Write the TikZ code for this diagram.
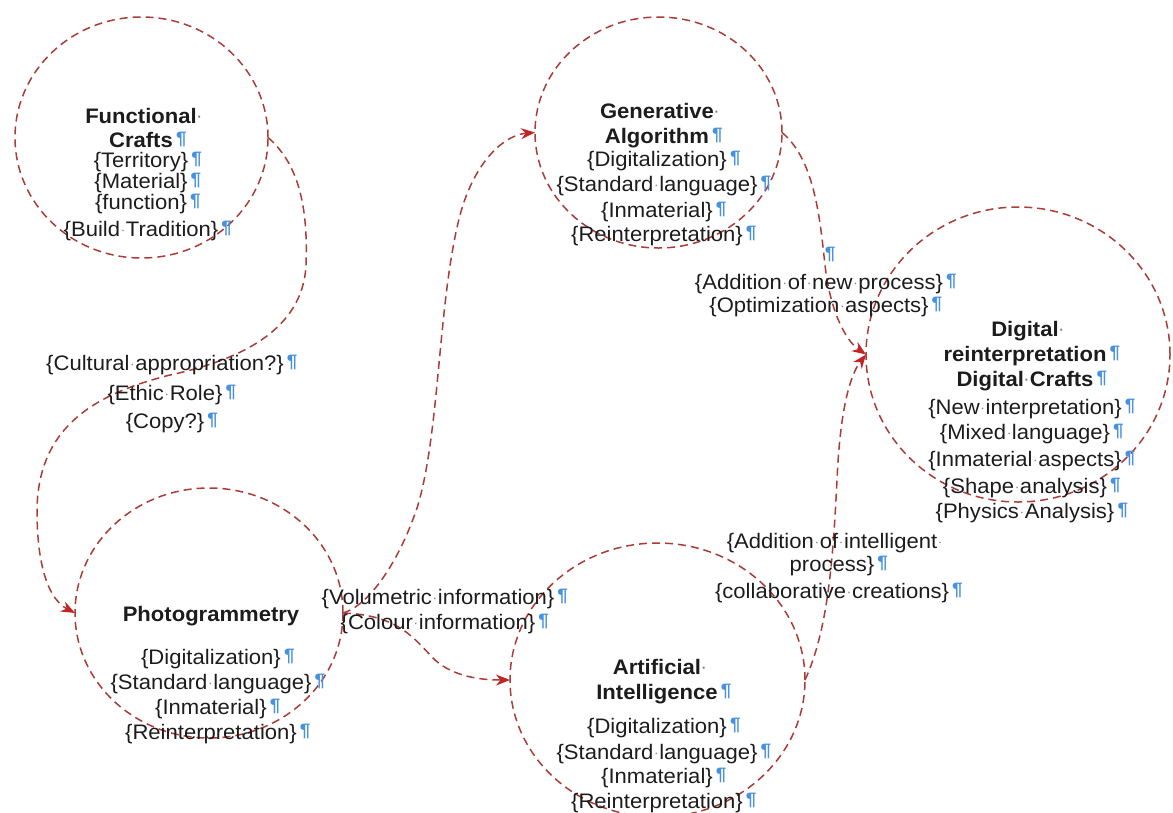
\documentclass[tikz,border=0pt]{standalone}
\usepackage{fontspec}
\setmainfont{Liberation Sans}[FakeStretch=1.05]
\usetikzlibrary{arrows.meta,shapes.geometric}
\definecolor{linered}{RGB}{170,60,55}
\definecolor{tipred}{RGB}{192,36,36}
\definecolor{pilblue}{RGB}{70,145,225}
\definecolor{dotgray}{RGB}{120,120,120}
\definecolor{txtcol}{RGB}{28,28,28}
\newcommand{\pcglyph}{{\color{pilblue}\fontsize{18}{18}\selectfont\bfseries\raisebox{3pt}{¶}}}
\newcommand{\pcw}{\rlap{\hspace{0.15em}\pcglyph}}
\newcommand{\wsp}{\makebox[0.28em][c]{\color{dotgray}\fontsize{13}{13}\selectfont\raisebox{1.5pt}{·}}}
\newcommand{\twsp}{\rlap{\wsp}}
\tikzset{
  ring/.style={ellipse, draw=linered, dash pattern=on 8pt off 5pt, line width=1.5pt, inner sep=0pt, outer sep=0pt},
  conn/.style={draw=linered, dash pattern=on 8pt off 5pt, line width=1.5pt,
    -{Stealth[length=14pt,width=11pt,color=tipred,fill=tipred]}},
  txt/.style={inner sep=0pt, anchor=base, text=txtcol, font=\fontsize{21}{21}\selectfont},
  bld/.style={txt, font=\fontsize{21}{21}\selectfont\bfseries},
}
\begin{document}
\begin{tikzpicture}[x=1pt,y=-1pt]
\useasboundingbox (0,0) rectangle (1173,812);

% circles
\node[ring, minimum width=253pt, minimum height=241pt] (func) at (141.5,137.5) {};
\node[ring, minimum width=247pt, minimum height=231pt] (gen) at (658.5,132.5) {};
\node[ring, minimum width=268pt, minimum height=250pt] (photo) at (209,613) {};
\node[ring, minimum width=295pt, minimum height=274pt] (ai) at (657.5,680) {};
\node[ring, minimum width=304pt, minimum height=295pt] (dig) at (1018,354.5) {};

% connectors
\draw[conn] (func.east) .. controls (300,165) and (308,210) .. (306,265)
  .. controls (303,330) and (240,360) .. (170,375)
  .. controls (90,395) and (38,430) .. (37,510)
  .. controls (37,570) and (50,600) .. (photo.west);
\draw[conn] (photo.east) .. controls (370,605) and (400,560) .. (418,505)
  .. controls (440,430) and (438,300) .. (460,215)
  .. controls (475,160) and (505,135) .. (gen.west);
\draw[conn] (photo.east) .. controls (400,615) and (415,640) .. (435,660)
  .. controls (455,678) and (485,680) .. (ai.west);
\draw[conn] (gen.east) .. controls (815,160) and (820,220) .. (825,265)
  .. controls (830,310) and (845,340) .. (dig.west);
\draw[conn] (ai.east) .. controls (828,630) and (833,560) .. (837,480)
  .. controls (840,410) and (850,375) .. (dig.west);

% Functional Crafts
\node[bld] (fc1) at (141,123) {Functional\twsp};
\node[bld] (fc2) at (141,147) {Crafts\pcw};
\node[txt] (fc3) at (141,167) {\{Territory\}\pcw};
\node[txt] (fc4) at (141,188) {\{Material\}\pcw};
\node[txt] (fc5) at (141,209) {\{function\}\pcw};
\node[txt] (fc6) at (141,236) {\{Build\wsp Tradition\}\pcw};

% Generative Algorithm
\node[bld] (ga1) at (657,118) {Generative\twsp};
\node[bld] (ga2) at (657,143) {Algorithm\pcw};
\node[txt] (ga3) at (657,166) {\{Digitalization\}\pcw};
\node[txt] (ga4) at (657,191) {\{Standard\wsp language\}\pcw};
\node[txt] (ga5) at (657,217) {\{Inmaterial\}\pcw};
\node[txt] (ga6) at (657,241) {\{Reinterpretation\}\pcw};

% Generative -> Digital labels
\node[txt] (gd0) at (830,262) {\pcglyph};
\node[txt] (gd1) at (819,289) {\{Addition\wsp of\wsp new\wsp process\}\pcw};
\node[txt] (gd2) at (819,312) {\{Optimization\wsp aspects\}\pcw};

% Digital reinterpretation
\node[bld] (dr1) at (1025,336) {Digital\twsp};
\node[bld] (dr2) at (1025,361) {reinterpretation\pcw};
\node[bld] (dr3) at (1025,386) {Digital\wsp Crafts\pcw};
\node[txt] (dr4) at (1025,414) {\{New\wsp interpretation\}\pcw};
\node[txt] (dr5) at (1025,439) {\{Mixed\wsp language\}\pcw};
\node[txt] (dr6) at (1025,466) {\{Inmaterial\wsp aspects\}\pcw};
\node[txt] (dr7) at (1025,493) {\{Shape\wsp analysis\}\pcw};
\node[txt] (dr8) at (1025,518) {\{Physics\wsp Analysis\}\pcw};

% Functional -> Photogrammetry labels
\node[txt] (cu1) at (165,370) {\{Cultural\wsp appropriation?\}\pcw};
\node[txt] (cu2) at (165,400) {\{Ethic\wsp Role\}\pcw};
\node[txt] (cu3) at (165,428) {\{Copy?\}\pcw};

% Photogrammetry
\node[bld] (ph1) at (211,621) {Photogrammetry};
\node[txt] (ph2) at (211,664) {\{Digitalization\}\pcw};
\node[txt] (ph3) at (211,689) {\{Standard\wsp language\}\pcw};
\node[txt] (ph4) at (211,714) {\{Inmaterial\}\pcw};
\node[txt] (ph5) at (211,739) {\{Reinterpretation\}\pcw};

% Photogrammetry outputs
\node[txt] (vo1) at (438,604) {\{Volumetric\wsp information\}\pcw};
\node[txt] (vo2) at (438,629) {\{Colour\wsp information\}\pcw};

% Artificial Intelligence
\node[bld] (ai1) at (657,674) {Artificial\twsp};
\node[bld] (ai2) at (657,699) {Intelligence\pcw};
\node[txt] (ai3) at (657,733) {\{Digitalization\}\pcw};
\node[txt] (ai4) at (657,759) {\{Standard\wsp language\}\pcw};
\node[txt] (ai5) at (657,783) {\{Inmaterial\}\pcw};
\node[txt] (ai6) at (657,808) {\{Reinterpretation\}\pcw};

% AI -> Digital labels
\node[txt] (ad1) at (832,548) {\{Addition\wsp of\wsp intelligent\twsp};
\node[txt] (ad2) at (832,571) {process\}\pcw};
\node[txt] (ad3) at (832,598) {\{collaborative\wsp creations\}\pcw};
\end{tikzpicture}
\end{document}
